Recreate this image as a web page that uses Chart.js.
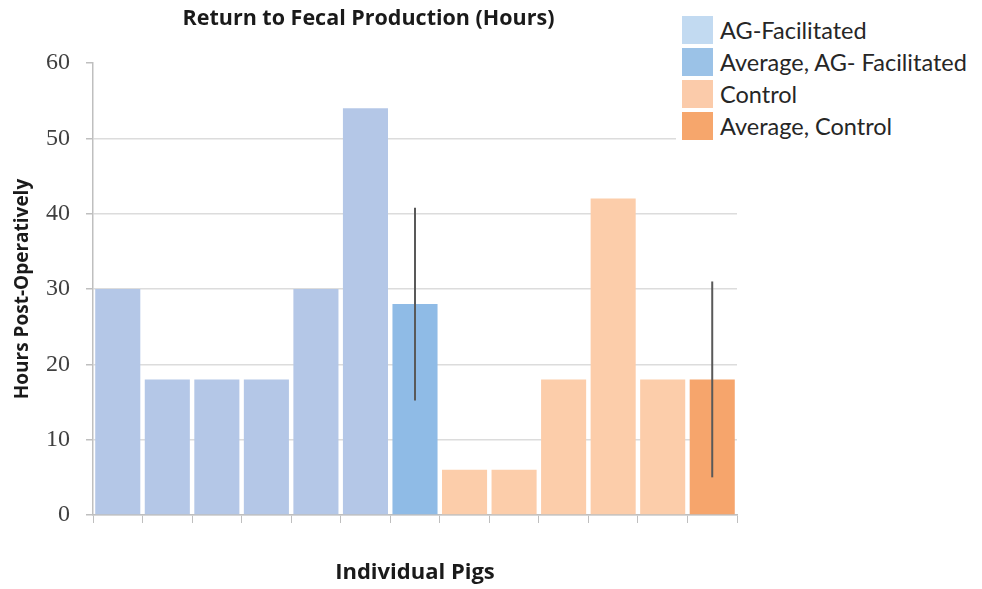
<!DOCTYPE html>
<html>
<head>
<meta charset="utf-8">
<script src="https://cdn.jsdelivr.net/npm/chart.js@4.4.1/dist/chart.umd.min.js"></script>
<style>
  html, body { margin: 0; padding: 0; background: #fff; }
  #wrap { position: relative; width: 982px; height: 589px; }
  #legend {
    position: absolute; left: 676px; top: 10px; width: 300px;
    background: #fff; padding: 4px 0 4px 6px;
    font-family: Lato, "Open Sans", sans-serif; font-size: 23.5px; color: #262626;
  }
  .row { display: flex; align-items: center; height: 32px; }
  .sw { width: 31px; height: 28px; margin-right: 7px; flex: none; }
</style>
</head>
<body>
<div id="wrap">
  <canvas id="feces" width="982" height="589"></canvas>
  <div id="legend"></div>
</div>
<script>
// categories and values (hours post-operatively)
const categories = ['AG 1', 'AG 2', 'AG 3', 'AG 4', 'AG 5', 'AG 6', 'AG avg',
                    'C 1', 'C 2', 'C 3', 'C 4', 'C 5', 'C avg'];
const hours = [30, 18, 18, 18, 30, 54, 28, 6, 6, 18, 42, 18, 18];
const groups = ['ag', 'ag', 'ag', 'ag', 'ag', 'ag', 'agAvg',
                'ctl', 'ctl', 'ctl', 'ctl', 'ctl', 'ctlAvg'];
// error bars on the averages only
const errLow  = [null, null, null, null, null, null, 15.2, null, null, null, null, null, 5];
const errHigh = [null, null, null, null, null, null, 40.8, null, null, null, null, null, 31];

const yTicks = [0, 10, 20, 30, 40, 50, 60];
const legendGroups = ['ag', 'agAvg', 'ctl', 'ctlAvg'];
const legendLabels = ['AG-Facilitated', 'Average, AG- Facilitated', 'Control', 'Average, Control'];

const barColor = { ag: '#b4c7e7', agAvg: '#8fbbe6', ctl: '#fccdaa', ctlAvg: '#f6a56c' };
const swatchColor = { ag: '#c2daf1', agAvg: '#9bc2e7', ctl: '#fbcbaa', ctlAvg: '#f6a66c' };

// html legend
const legendEl = document.getElementById('legend');
legendGroups.forEach((g, i) => {
    const row = document.createElement('div');
    row.className = 'row';
    row.innerHTML = '<span class="sw" style="background:' + swatchColor[g] + '"></span><span>' + legendLabels[i] + '</span>';
    legendEl.appendChild(row);
});

// draws the vertical error lines over the average bars
const errorBars = {
    id: 'errorBars',
    afterDatasetsDraw(chart) {
        const ctx = chart.ctx;
        const x = chart.scales.x, y = chart.scales.y;
        ctx.save();
        ctx.strokeStyle = '#595959';
        ctx.lineWidth = 2;
        errLow.forEach((lo, i) => {
            if (lo === null) return;
            const px = x.getPixelForValue(i);
            ctx.beginPath();
            ctx.moveTo(px, y.getPixelForValue(lo));
            ctx.lineTo(px, y.getPixelForValue(errHigh[i]));
            ctx.stroke();
        });
        ctx.restore();
    }
};

new Chart(document.getElementById('feces'), {
    type: 'bar',
    data: {
        labels: categories,
        datasets: [{
            label: 'Hours',
            data: hours,
            backgroundColor: groups.map(g => barColor[g]),
            borderWidth: 0,
            barPercentage: 0.91,
            categoryPercentage: 1
        }]
    },
    plugins: [errorBars],
    options: {
        responsive: false,
        animation: false,
        layout: { padding: { left: 0, right: 245, top: 0, bottom: 0 } },
        plugins: {
            legend: { display: false },
            tooltip: { enabled: false },
            title: {
                display: true,
                text: 'Return to Fecal Production (Hours)',
                color: '#1a1a1a',
                font: { family: 'Open Sans', size: 21.5, weight: 'bold' },
                padding: { top: 6, bottom: 31.2 }
            }
        },
        scales: {
            x: {
                afterFit: s => { s.height = 74; },
                border: { color: '#bfbfbf', width: 1.5 },
                grid: { drawOnChartArea: false, tickLength: 8, tickColor: '#bfbfbf', offset: true },
                ticks: { display: false },
                title: {
                    display: true,
                    text: 'Individual Pigs',
                    color: '#1a1a1a',
                    font: { family: 'Open Sans', size: 22, weight: 'bold' },
                    padding: { top: 0, bottom: 3 }
                }
            },
            y: {
                min: 0,
                max: 60,
                afterFit: s => { s.width = 93; },
                afterBuildTicks: s => { s.ticks = yTicks.map(v => ({ value: v })); },
                border: { color: '#bfbfbf', width: 1.5 },
                grid: {
                    color: c => (c.tick && c.tick.value === 60) ? 'rgba(0,0,0,0)' : '#dcdcdc',
                    tickColor: '#bfbfbf',
                    tickLength: 7,
                    lineWidth: 1.5
                },
                ticks: {
                    color: '#404040',
                    padding: 16,
                    font: { family: 'Liberation Serif', size: 24 }
                },
                title: {
                    display: true,
                    text: 'Hours Post-Operatively',
                    color: '#1a1a1a',
                    font: { family: 'Open Sans', size: 19, weight: 'bold' },
                    padding: { top: 11.6, bottom: 0 }
                }
            }
        }
    }
});
</script>
</body>
</html>
